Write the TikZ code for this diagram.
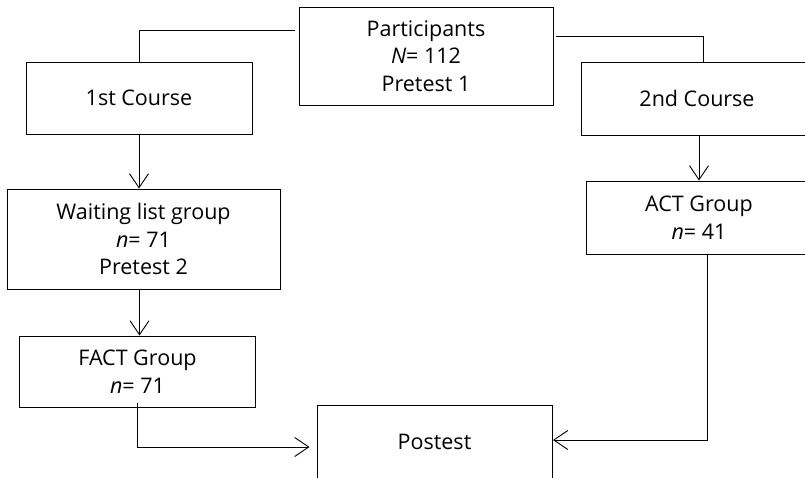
\documentclass[tikz,border=0pt]{standalone}
\usepackage{fontspec}
\setmainfont{Open Sans}
\usetikzlibrary{arrows.meta}
\begin{document}
\begin{tikzpicture}[x=1pt,y=-1pt,
 box/.style={draw, line width=1pt, align=center, inner sep=0pt, font=\fontsize{21.5}{27.5}\selectfont},
 conn/.style={line width=0.9pt},
 arr/.style={conn, -{Straight Barb[length=14pt,width=19pt,line width=0.9pt]}}]
\useasboundingbox (0,0) rectangle (805,477);
\begin{scope}
\clip (0,0) rectangle (805,477);
\node[box, minimum width=254pt, minimum height=98pt] (part) at (426,56) {Participants\\\textit{N}= 112\\Pretest 1};
\node[box, minimum width=226pt, minimum height=72pt] (c1) at (139,98) {1st Course};
\node[box, minimum width=232pt, minimum height=73pt] (c2) at (697,98.5) {2nd Course};
\node[box, minimum width=273pt, minimum height=100pt] (wait) at (143.5,239) {Waiting list group\\\textit{n}= 71\\Pretest 2};
\node[box, minimum width=226pt, minimum height=73pt] (act) at (699,217.5) {ACT Group\\\textit{n}= 41};
\node[box, minimum width=236pt, minimum height=71pt] (fact) at (137.5,371.5) {FACT Group\\\textit{n}= 71};
\node[box, minimum width=235pt, minimum height=74pt] (post) at (434.5,442) {Postest};
\coordinate (pl) at (295,30);
\coordinate (pr) at (556,36);
\coordinate (fl) at (309.5,447);
\coordinate (pe) at (553,440);
\draw[conn] (pl) -| (c1.north);
\draw[conn] (pr) -| ([xshift=6pt]c2.north);
\draw[arr] (c1.south) -- (c1.south |- wait.north);
\draw[arr] ([xshift=-4pt]wait.south) -- ([xshift=-4pt]wait.south |- fact.north);
\draw[arr] (act.north |- c2.south) -- (act.north);
\draw[arr] ([yshift=5pt]fact.south) |- (fl);
\draw[arr] ([xshift=8pt]act.south) |- (pe);
\end{scope}
\end{tikzpicture}
\end{document}
